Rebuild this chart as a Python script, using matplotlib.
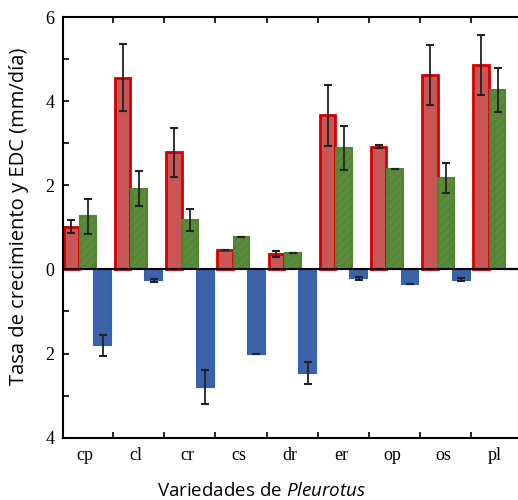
import matplotlib
matplotlib.use("Agg")
import matplotlib.pyplot as plt
import numpy as np
from matplotlib.ticker import FuncFormatter

plt.rcParams["mathtext.fontset"] = "custom"
plt.rcParams["mathtext.it"] = "Open Sans:italic"
plt.rcParams["mathtext.rm"] = "Open Sans"

# values (mm/day)
varieties = ["cp", "cl", "cr", "cs", "dr", "er", "op", "os", "pl"]
growth = [1.02, 4.56, 2.78, 0.46, 0.37, 3.66, 2.92, 4.62, 4.86]
growth_err = [0.15, 0.80, 0.58, 0.0, 0.07, 0.72, 0.04, 0.72, 0.72]
edc = [1.26, 1.92, 1.18, 0.76, 0.40, 2.88, 2.38, 2.18, 4.26]
edc_err = [0.42, 0.42, 0.26, 0.0, 0.0, 0.52, 0.0, 0.36, 0.52]
neg = [1.80, 0.26, 2.80, 2.00, 2.47, 0.21, 0.34, 0.24, 0.0]
neg_err = [0.25, 0.04, 0.40, 0.0, 0.26, 0.04, 0.0, 0.03, 0.0]

x = np.arange(len(varieties))

fig = plt.figure(figsize=(5.18, 5.0), dpi=100)
ax = fig.add_axes([63 / 518, 62.3 / 500, 455.5 / 518, 420.7 / 500])

ebar = dict(ecolor="#222222", elinewidth=1.3, capsize=3, capthick=1.5, zorder=4)

ax.bar(x, growth, width=0.30, color="#c95555", edgecolor="#d10000",
       linewidth=2, zorder=2)
ax.errorbar(x, growth, yerr=growth_err, fmt="none", **ebar)

ax.bar(x + 0.32, edc, width=0.31, color="#5b8a3c", edgecolor="#4f8530",
       linewidth=1.5, hatch="////", zorder=2)
ax.errorbar(x + 0.32, edc, yerr=edc_err, fmt="none", **ebar)

negv = -np.array(neg)
ax.bar(x + 0.61, negv, width=0.33, color="#3d62a8", edgecolor="#2f62b8",
       linewidth=1.5, zorder=2)
ax.errorbar(x + 0.61, negv, yerr=neg_err, fmt="none", **ebar)

ax.axhline(0, color="black", linewidth=1.5, zorder=5)

ax.set_xlim(-0.166, 8.73)
ax.set_ylim(-4, 6)

# tick marks between groups, labels under each group
ax.set_xticks(x[:-1] + 0.81)
ax.set_xticklabels([])
ax.set_xticks(x + 0.26, minor=True)
ax.set_xticklabels(varieties, minor=True, family="Liberation Serif", fontsize=13)
ax.tick_params(axis="x", which="major", direction="in", top=True, length=4, width=1.2)
ax.tick_params(axis="x", which="minor", length=0, pad=7)

ax.set_yticks([-4, -2, 0, 2, 4, 6])
ax.set_yticks([-3, -1, 1, 3, 5], minor=True)
ax.yaxis.set_major_formatter(FuncFormatter(lambda v, p: f"{abs(v):.0f}"))
for lab in ax.get_yticklabels():
    lab.set_family("Liberation Serif")
    lab.set_fontsize(13)
ax.tick_params(axis="y", which="both", direction="in", length=4, width=1.2, pad=6)

for s in ax.spines.values():
    s.set_linewidth(1.5)

ax.set_ylabel("Tasa de crecimiento y EDC (mm/día)", family="Open Sans",
              fontsize=14.5)
ax.yaxis.set_label_coords(-0.075, 0.527)
ax.set_xlabel("Variedades de $Pleurotus$", family="Open Sans",
              fontsize=13.5)
ax.xaxis.set_label_coords(0.435, -0.105)

fig.savefig("out.png", dpi=100)
